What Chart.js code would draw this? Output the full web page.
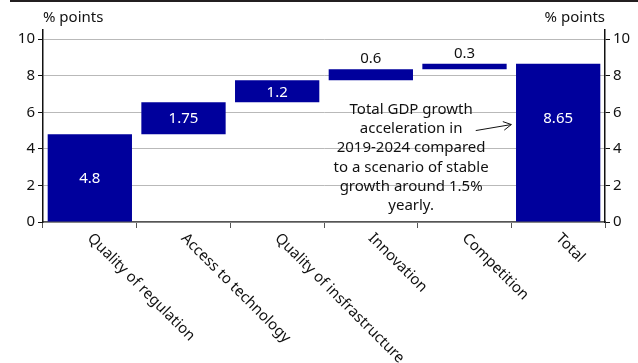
<!DOCTYPE html>
<html>
<head>
<meta charset="utf-8">
<script src="https://cdn.jsdelivr.net/npm/chart.js@4.4.1/dist/chart.umd.min.js"></script>
<style>
  html, body { margin: 0; padding: 0; background: #fff; }
  #wrap { position: relative; width: 638px; height: 363px; }
  #rule { position: absolute; left: 10px; right: 0; top: 0; height: 2px; background: #231f20; }
</style>
</head>
<body>
<div id="wrap">
  <canvas id="chart" width="638" height="363"></canvas>
  <div id="rule"></div>
</div>
<script>
// data
const categories = ["Quality of regulation", "Access to technology", "Quality of insfrastructure", "Innovation", "Competition", "Total"];
const contributions = [4.8, 1.75, 1.2, 0.6, 0.3];
const total = 8.65;
const yGridValues = [0, 1, 2, 3, 4, 5, 6, 7, 8, 9, 10];
const yTickLabels = [0, 2, 4, 6, 8, 10];
const unitLabel = "% points";
const noteLines = ["Total GDP growth", "acceleration in", "2019-2024 compared", "to a scenario of stable", "growth around 1.5%", "yearly."];

const FONT = "'Noto Sans', sans-serif";
const BLUE = "#00009c";

// waterfall: each bar floats from the running sum
let run = 0;
const bars = contributions.map(v => {
  const b = [run, run + v];
  run += v;
  return b;
});
bars.push([0, total]);
const barLabels = contributions.concat([total]);

const labelsPlugin = {
  id: "labels",
  afterDatasetsDraw(chart) {
    const ctx = chart.ctx;
    const x = chart.scales.x, y = chart.scales.y;
    const area = chart.chartArea;
    const meta = chart.getDatasetMeta(0);
    ctx.save();
    ctx.font = "15px " + FONT;

    // values on the bars
    meta.data.forEach((bar, i) => {
      const txt = String(barLabels[i]);
      const h = Math.abs(bar.base - bar.y);
      ctx.textAlign = "center";
      if (i === bars.length - 1) {
        ctx.fillStyle = "#fff";
        ctx.textBaseline = "middle";
        ctx.fillText(txt, bar.x, y.getPixelForValue(5.65));
      } else if (h > 20) {
        ctx.fillStyle = "#fff";
        ctx.textBaseline = "middle";
        ctx.fillText(txt, bar.x, (bar.y + bar.base) / 2 + 1);
      } else {
        ctx.fillStyle = "#111";
        ctx.textBaseline = "alphabetic";
        ctx.fillText(txt, bar.x, Math.min(bar.y, bar.base) - 6);
      }
    });

    // unit titles
    ctx.fillStyle = "#111";
    ctx.textBaseline = "alphabetic";
    ctx.textAlign = "left";
    ctx.fillText(unitLabel, area.left, 22);
    ctx.textAlign = "right";
    ctx.fillText(unitLabel, area.right, 22);

    // annotation
    ctx.textAlign = "center";
    ctx.textBaseline = "middle";
    const nx = x.getPixelForValue(3.43);
    const ny = y.getPixelForValue(6.15);
    noteLines.forEach((ln, k) => ctx.fillText(ln, nx, ny + k * 19.3));

    // arrow
    const ax0 = x.getPixelForValue(4.12), ay0 = y.getPixelForValue(5.0);
    const ax1 = x.getPixelForValue(4.5), ay1 = y.getPixelForValue(5.33);
    ctx.strokeStyle = "#111";
    ctx.lineWidth = 1;
    ctx.beginPath();
    ctx.moveTo(ax0, ay0);
    ctx.lineTo(ax1, ay1);
    const ang = Math.atan2(ay1 - ay0, ax1 - ax0);
    ctx.moveTo(ax1 - 9 * Math.cos(ang - 0.5), ay1 - 9 * Math.sin(ang - 0.5));
    ctx.lineTo(ax1, ay1);
    ctx.lineTo(ax1 - 9 * Math.cos(ang + 0.5), ay1 - 9 * Math.sin(ang + 0.5));
    ctx.stroke();

    // rotated category labels
    ctx.fillStyle = "#111";
    ctx.textAlign = "left";
    ctx.textBaseline = "middle";
    categories.forEach((c, i) => {
      ctx.save();
      ctx.translate(x.getPixelForValue(i), area.bottom + 14);
      ctx.rotate(Math.PI / 4);
      ctx.fillText(c, 0, 0);
      ctx.restore();
    });
    ctx.restore();
  }
};

const yTicksCommon = {
  color: "#111",
  padding: 3,
  font: { family: FONT, size: 15 },
  callback: v => (yTickLabels.includes(v) ? v : "")
};
const setYTicks = s => { s.ticks = yGridValues.map(v => ({ value: v })); };

new Chart(document.getElementById("chart"), {
  type: "bar",
  data: {
    labels: categories,
    datasets: [{
      data: bars,
      backgroundColor: BLUE,
      borderWidth: 0,
      barPercentage: 0.9,
      categoryPercentage: 1,
      yAxisID: "y"
    }]
  },
  options: {
    responsive: false,
    animation: false,
    devicePixelRatio: 1,
    layout: { padding: { top: 30, left: 0, right: 0, bottom: 0 } },
    plugins: { legend: { display: false }, tooltip: { enabled: false } },
    scales: {
      x: {
        offset: true,
        grid: { offset: true, drawOnChartArea: false, drawTicks: true, tickLength: 6, tickColor: "#555" },
        border: { color: "#555", width: 1.5 },
        ticks: { display: false },
        afterFit: s => { s.height = 141; }
      },
      y: {
        position: "left",
        min: 0,
        max: 10.5,
        ticks: yTicksCommon,
        afterBuildTicks: setYTicks,
        grid: { color: "#b9b9b9", lineWidth: 1, tickColor: "#111", tickLength: 5 },
        border: { color: "#111", width: 1.5 },
        afterFit: s => { s.width = 43; }
      },
      y2: {
        display: true,
        position: "right",
        min: 0,
        max: 10.5,
        ticks: yTicksCommon,
        afterBuildTicks: setYTicks,
        grid: { drawOnChartArea: false, tickColor: "#111", tickLength: 5 },
        border: { color: "#111", width: 1.5 },
        afterFit: s => { s.width = 33; }
      }
    }
  },
  plugins: [labelsPlugin]
});
</script>
</body>
</html>
